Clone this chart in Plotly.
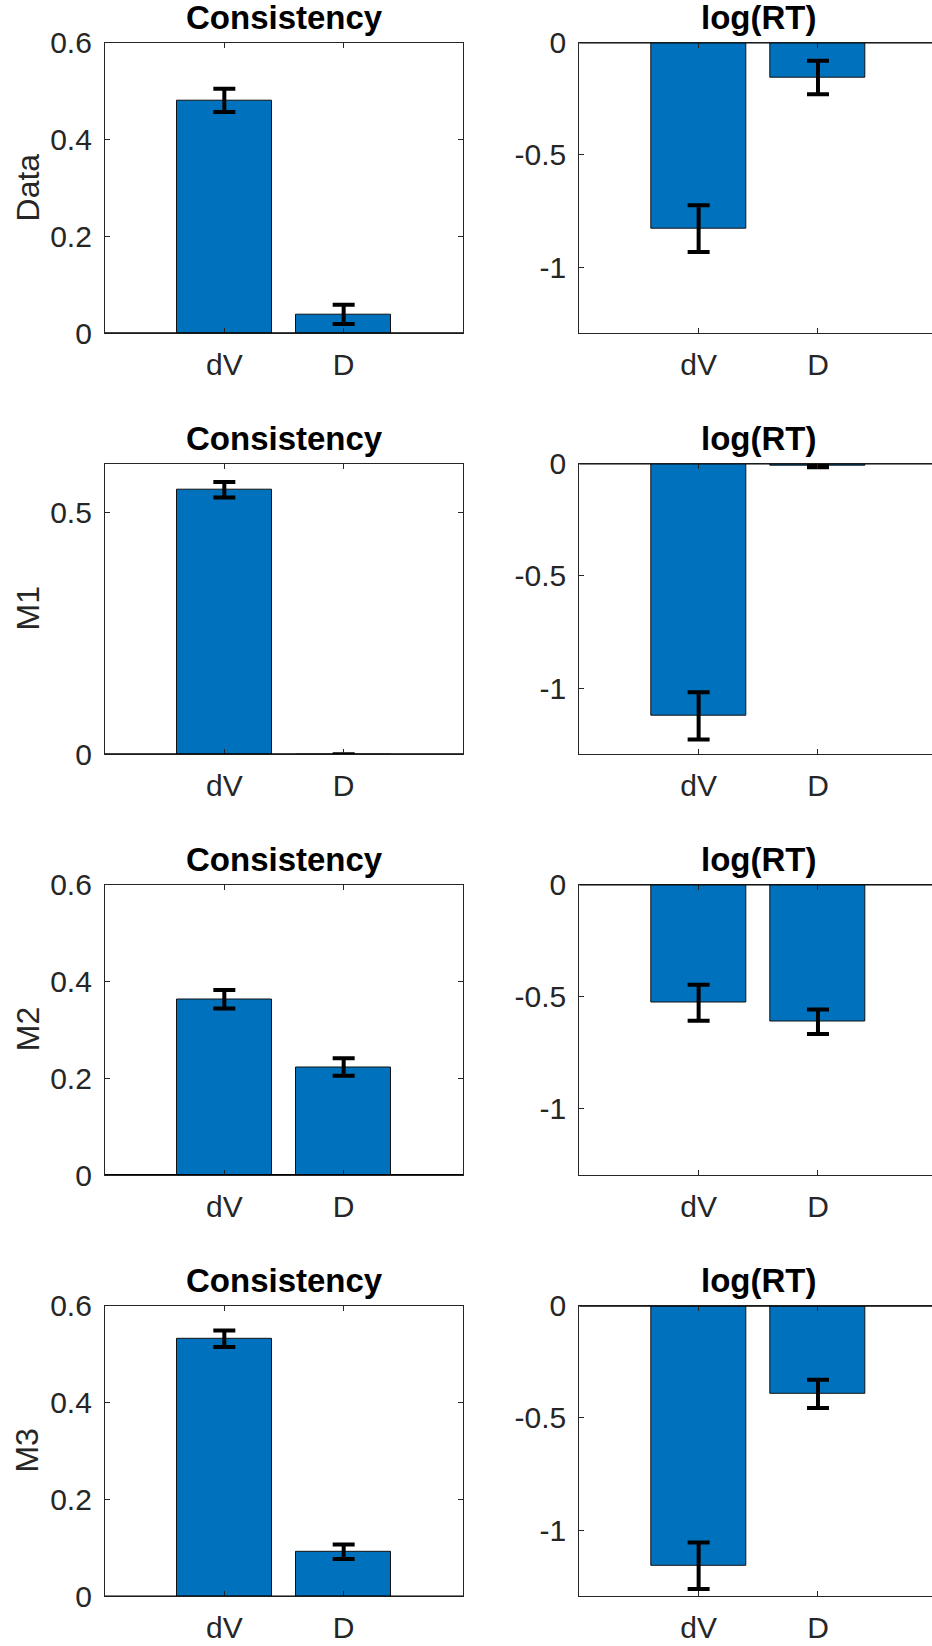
import plotly.graph_objects as go

# ---------------- data ----------------
rows = ["Data", "M1", "M2", "M3"]
categories = ["dV", "D"]
panel_titles = ["Consistency", "log(RT)"]

cons_dV = [0.481, 0.546, 0.363, 0.532]
cons_dV_err = [0.024, 0.016, 0.019, 0.017]
cons_D = [0.039, -0.003, 0.223, 0.092]
cons_D_err = [0.020, 0.003, 0.018, 0.015]

logrt_dV = [-0.829, -1.124, -0.527, -1.159]
logrt_dV_err = [0.104, 0.105, 0.080, 0.104]
logrt_D = [-0.155, -0.008, -0.612, -0.393]
logrt_D_err = [0.075, 0.008, 0.055, 0.063]

cons_ticks = [[0, 0.2, 0.4, 0.6], [0, 0.5], [0, 0.2, 0.4, 0.6], [0, 0.2, 0.4, 0.6]]
cons_ticktext = [["0", "0.2", "0.4", "0.6"], ["0", "0.5"], ["0", "0.2", "0.4", "0.6"], ["0", "0.2", "0.4", "0.6"]]
logrt_ticks = [-1, -0.5, 0]
logrt_ticktext = ["-1", "-0.5", "0"]

# ---------------- layout geometry ----------------
W, H = 932, 1646
FONT = "Liberation Sans, Arial, Helvetica, sans-serif"
TXT = "#262626"
BAR = "#0072BD"

col_px = [(105, 463), (579.3, 932)]
px_per_unit = (463 - 105) / 3.0
x_ranges = [[0, 3], [0, (932 - 579.3) / px_per_unit]]
row_top = [42.7, 463.7, 884.5, 1305.8]
row_h = 290.5


def sfx(k):
    return "" if k == 1 else str(k)


fig = go.Figure()
shapes = []
annotations = []

cat_x = [1, 2]
for r in range(4):
    for c in range(2):
        k = r * 2 + c + 1
        s = sfx(k)
        if c == 0:
            vals = [cons_dV[r], cons_D[r]]
            errs = [cons_dV_err[r], cons_D_err[r]]
        else:
            vals = [logrt_dV[r], logrt_D[r]]
            errs = [logrt_dV_err[r], logrt_D_err[r]]
        fig.add_trace(go.Bar(
            x=cat_x, y=vals, width=0.8,
            marker=dict(color=BAR, line=dict(color="#111111", width=1)),
            error_y=dict(type="data", array=errs, color="black", thickness=4, width=11),
            xaxis=f"x{s}", yaxis=f"y{s}", showlegend=False, hoverinfo="skip",
        ))
        x0, x1 = col_px[c]
        top = row_top[r]
        bot = top + row_h
        xa = dict(
            domain=[x0 / W, x1 / W], range=x_ranges[c],
            tickmode="array", tickvals=cat_x, ticktext=categories,
            ticks="inside", ticklen=5, tickwidth=1, tickcolor=TXT,
            showline=True, linecolor=TXT, linewidth=1.2, mirror="ticks",
            showgrid=False, zeroline=False, automargin=False,
            tickfont=dict(family=FONT, size=30, color=TXT),
            ticklabelstandoff=5,
            anchor=f"y{s}",
        )
        if c == 0:
            yr = [0, 0.6]
            tv, tt = cons_ticks[r], cons_ticktext[r]
            mirror = "ticks"
        else:
            yr = [-1.295, 0]
            tv, tt = logrt_ticks, logrt_ticktext
            mirror = False
        ya = dict(
            domain=[(H - bot) / H, (H - top) / H], range=yr,
            tickmode="array", tickvals=tv, ticktext=tt,
            ticks="inside", ticklen=5, tickwidth=1, tickcolor=TXT,
            showline=True, linecolor=TXT, linewidth=1.2, mirror=mirror,
            showgrid=False, zeroline=False, automargin=False,
            tickfont=dict(family=FONT, size=30, color=TXT),
            ticklabelstandoff=6,
            anchor=f"x{s}",
        )
        fig.layout[f"xaxis{s}"] = xa
        fig.layout[f"yaxis{s}"] = ya

        # bar baseline at zero
        shapes.append(dict(type="line", xref=f"x{s} domain", x0=0, x1=1,
                           yref=f"y{s}", y0=0, y1=0,
                           line=dict(color="black", width=1.8), layer="above"))
        # panel title
        cx = (x0 + (x0 + 358)) / 2.0
        annotations.append(dict(
            text=f"<b>{panel_titles[c]}</b>", x=cx / W, y=(H - top) / H,
            xref="paper", yref="paper", xanchor="center", yanchor="bottom",
            yshift=5, showarrow=False,
            font=dict(family=FONT, size=33, color="black"),
        ))
    # row label
    annotations.append(dict(
        text=rows[r], x=27.5 / W, y=(H - (row_top[r] + row_h / 2)) / H,
        xref="paper", yref="paper", xanchor="center", yanchor="middle",
        textangle=-90, showarrow=False,
        font=dict(family=FONT, size=32, color=TXT),
    ))

fig.update_layout(
    width=W, height=H, margin=dict(l=0, r=0, t=0, b=0, autoexpand=False),
    paper_bgcolor="white", plot_bgcolor="white",
    shapes=shapes, annotations=annotations, bargap=0,
)

fig.write_html("out.html", config={"displayModeBar": False},
               post_script="document.body.style.margin='0';")
